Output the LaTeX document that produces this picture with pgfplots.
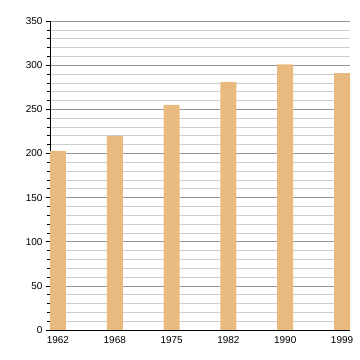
\documentclass[border=0pt]{standalone}
\usepackage{pgfplots}
\pgfplotsset{compat=1.18}
\usepackage{fontspec}
\setmainfont{Liberation Sans}
\definecolor{barc}{RGB}{232,186,128}
\definecolor{majg}{RGB}{150,150,150}
\definecolor{ming}{RGB}{205,205,205}
\begin{document}
\begin{tikzpicture}
\useasboundingbox (0,0) rectangle (360bp,360bp);
\begin{axis}[
  at={(50bp,30bp)}, anchor=south west,
  scale only axis, width=300bp, height=309bp,
  xmin=-0.14, xmax=5.14, ymin=0, ymax=350,
  axis x line*=bottom, axis y line*=left,
  axis line style={black, line width=0.8pt, -},
  xtick={0,1,2,3,4,5},
  xticklabels={1962,1968,1975,1982,1990,1999},
  x tick label style={yshift=1bp},
  ytick={0,50,...,350},
  minor ytick={10,20,...,340},
  ymajorgrids, yminorgrids,
  major grid style={majg, line width=0.6pt},
  minor grid style={ming, line width=0.6pt},
  tick align=outside,
  major tick length=4bp, minor tick length=2.5bp,
  xtick style={draw=none},
  ytick style={black, line width=0.6pt},
  tick label style={font=\fontsize{10}{12}\selectfont},
  /pgf/number format/assume math mode=true,
]
\addplot[ybar, bar width=16bp, fill=barc, draw=none] coordinates {
  (0,203) (1,220) (2,255) (3,281) (4,301) (5,291)
};
\end{axis}
\end{tikzpicture}
\end{document}
